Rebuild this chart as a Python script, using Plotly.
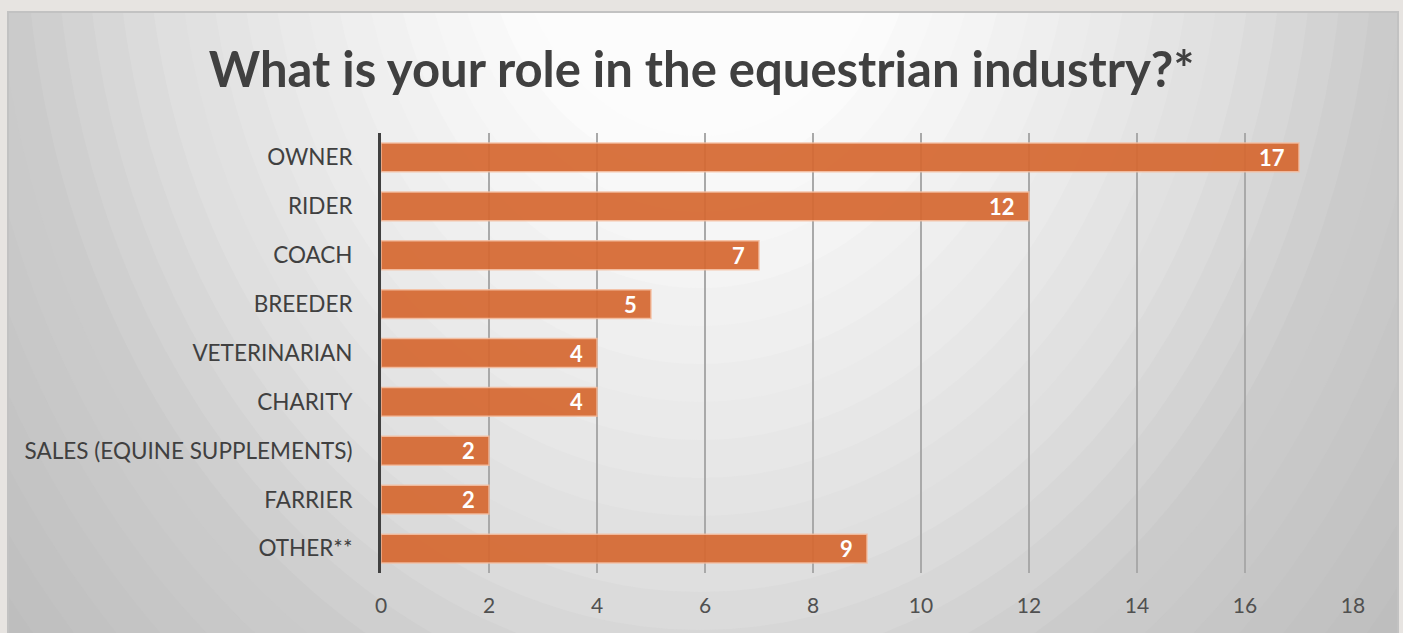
import numpy as np
import plotly.graph_objects as go

# Survey answers, top to bottom
roles = ["OWNER", "RIDER", "COACH", "BREEDER", "VETERINARIAN", "CHARITY",
         "SALES (EQUINE SUPPLEMENTS)", "FARRIER", "OTHER**"]
counts = [17, 12, 7, 5, 4, 4, 2, 2, 9]
x_ticks = list(range(0, 19, 2))

W, H = 1403, 633
ML, MR, MT, MB = 381, 50, 133, 60
PW, PH = W - ML - MR, H - MT - MB

FONT = "Lato"
DARK = "#404040"
BAR = "rgb(214,105,50)"


def px(x):
    return (x - ML) / PW


def py(y):
    return (H - MB - y) / PH


# Soft radial backdrop built from nested ellipses
cx, cy = 700, -100
aspect = 0.8
stops_d = [0, 250, 450, 700, 870, 1150, 1300]
stops_v = [255, 252, 240, 222, 204, 190, 186]
shapes = []
for d in np.arange(1300, 200, -38):
    v = int(round(np.interp(d, stops_d, stops_v)))
    shapes.append(dict(
        type="circle", layer="below", xref="paper", yref="paper",
        xsizemode="pixel", ysizemode="pixel",
        xanchor=px(cx), yanchor=py(cy),
        x0=-d * aspect, x1=d * aspect, y0=-d, y1=d,
        fillcolor=f"rgb({v},{v},{v})", line=dict(width=0),
    ))

# Outer surround and panel edge
beige = "#e7e4e1"
for (x0, y0, x1, y1) in [(0, 0, W, 11), (0, 0, 7, H), (1399, 0, W, H)]:
    shapes.append(dict(type="rect", layer="below", xref="paper", yref="paper",
                       x0=px(x0), x1=px(x1), y0=py(y1), y1=py(y0),
                       fillcolor=beige, line=dict(width=0)))
shapes.append(dict(type="path", layer="below", xref="paper", yref="paper",
                   path=f"M {px(8)},{py(H)} L {px(8)},{py(12)} L {px(1398)},{py(12)} L {px(1398)},{py(H)}",
                   line=dict(color="#c2c2c2", width=2)))

fig = go.Figure(go.Bar(
    x=counts, y=roles, orientation="h", width=0.59,
    marker=dict(color=BAR, opacity=0.93, line=dict(color="rgba(245,190,160,0.9)", width=1.5)),
    hoverinfo="skip",
))

annotations = [dict(x=v, y=r, xref="x", yref="y", text=f"<b>{v}</b>", showarrow=False,
                    xanchor="right", xshift=-12,
                    font=dict(family=FONT, size=22, color="white"))
               for r, v in zip(roles, counts)]

fig.update_layout(
    width=W, height=H,
    margin=dict(l=ML, r=MR, t=MT, b=MB),
    paper_bgcolor=beige, plot_bgcolor="rgba(0,0,0,0)",
    showlegend=False,
    shapes=shapes,
    annotations=annotations,
    title=dict(text="<b>What is your role in the equestrian industry?*</b>",
               x=0.5, xanchor="center", y=1 - 70 / H, yanchor="middle",
               font=dict(family=FONT, size=49, color=DARK)),
    xaxis=dict(range=[0, 18], tickvals=x_ticks, showgrid=True, gridcolor="#a9a9a9", gridwidth=2,
               zeroline=False, showline=False, ticks="outside", ticklen=14,
               tickcolor="rgba(0,0,0,0)", tickfont=dict(family=FONT, size=21, color="#505050"),
               fixedrange=True),
    yaxis=dict(autorange="reversed", showline=True, linecolor=DARK, linewidth=3,
               showgrid=False, ticks="outside", ticklen=21, tickcolor="rgba(0,0,0,0)",
               tickfont=dict(family=FONT, size=22.5, color=DARK), fixedrange=True),
)

fig.write_html("out.html", config={"displayModeBar": False})
